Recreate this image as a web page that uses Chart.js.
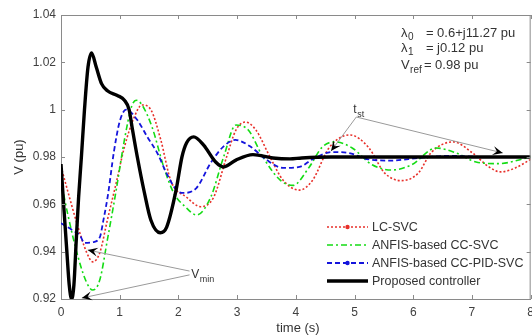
<!DOCTYPE html>
<html><head><meta charset="utf-8">
<script src="https://cdn.jsdelivr.net/npm/chart.js@4"></script>
<style>html,body{margin:0;padding:0;background:#fff;overflow:hidden;}</style>
</head><body>
<canvas id="c" width="540" height="335" style="display:block;width:540px;height:335px"></canvas>
<script>
// ---- data ----
const xTicks = [0, 1, 2, 3, 4, 5, 6, 7, 8];
const yTicks = [0.92, 0.94, 0.96, 0.98, 1, 1.02, 1.04];
const seriesLabels = ['LC-SVC', 'ANFIS-based CC-SVC', 'ANFIS-based CC-PID-SVC', 'Proposed controller'];

const tLC = [0,0.11,0.29,0.44,0.54,0.66,0.79,0.94,1.08,1.25,1.38,1.53,1.70,1.87,2.14,2.38,2.60,2.82,2.98,3.14,3.32,3.56,3.78,4.06,4.28,4.57,4.92,5.24,5.51,5.80,6.09,6.30,6.68,7.01,7.29,7.49,7.74,8.0];
const vLC = [0.976,0.966,0.9504,0.9395,0.9357,0.9395,0.9534,0.969,0.9842,0.997,1.002,1.000,0.9872,0.970,0.963,0.959,0.963,0.980,0.9914,0.9948,0.9914,0.980,0.9703,0.966,0.970,0.984,0.9893,0.984,0.9733,0.970,0.9733,0.9817,0.9864,0.9817,0.9758,0.9737,0.9754,0.979];

const tAN = [0,0.11,0.29,0.44,0.54,0.66,0.79,0.94,1.08,1.20,1.28,1.38,1.55,1.75,1.92,2.12,2.31,2.55,2.77,2.98,3.19,3.44,3.73,3.95,4.23,4.45,4.67,4.96,5.30,5.63,5.97,6.39,6.73,7.07,7.45,8.0];
const vAN = [0.970,0.9564,0.9378,0.9268,0.9238,0.928,0.945,0.966,0.9872,1.0011,1.004,1.002,0.9927,0.9758,0.9648,0.9589,0.9555,0.963,0.980,0.9935,0.9914,0.980,0.9703,0.968,0.9758,0.9842,0.9864,0.9838,0.9767,0.9745,0.9767,0.9838,0.9817,0.9779,0.9772,0.980];

const tPID = [0,0.07,0.20,0.32,0.40,0.54,0.66,0.72,0.80,0.90,1.00,1.11,1.30,1.47,1.64,1.80,1.97,2.09,2.31,2.55,2.77,2.97,3.22,3.49,3.78,4.06,4.28,4.62,4.90,5.24,5.63,6.09,6.60,7.20,8.0];
const vPID = [0.952,0.951,0.949,0.947,0.9437,0.944,0.946,0.953,0.964,0.982,0.995,1.0,0.9956,0.9885,0.9817,0.973,0.966,0.9648,0.967,0.9775,0.9845,0.9872,0.9845,0.979,0.9754,0.9758,0.979,0.9821,0.9817,0.979,0.9785,0.9796,0.9805,0.980,0.980];

const tPC = [0,0.05,0.10,0.14,0.18,0.22,0.26,0.30,0.35,0.40,0.46,0.52,0.60,0.69,0.79,0.96,1.08,1.16,1.21,1.30,1.42,1.53,1.69,1.80,1.96,2.06,2.14,2.26,2.43,2.63,2.77,2.98,3.27,3.61,3.90,4.10,4.60,5.0,6.0,7.0,8.0];
const vPC = [0.977,0.958,0.940,0.926,0.920,0.926,0.945,0.963,0.981,1.000,1.018,1.024,1.018,1.011,1.008,1.006,1.004,1.000,0.9927,0.980,0.965,0.9534,0.948,0.9504,0.966,0.980,0.986,0.9885,0.985,0.978,0.9758,0.9787,0.981,0.9796,0.9792,0.9796,0.980,0.980,0.980,0.980,0.980];

// annotation anchors in data units (t, V)
const vminLabel = [2.22, 0.9289];
const vminFrom = [[2.19, 0.9318], [2.19, 0.9302]];
const vminTips = [[0.455, 0.9407], [0.354, 0.9204]];
const tstLabel = [4.98, 0.9986];
const tstFrom = [5.03, 0.9969];
const tstTips = [[4.60, 0.9825], [7.525, 0.9817]];
const paramAnchor = [5.79, 1.0305];

// ---- build ----
const pts = (t, v) => t.map((x, i) => ({x: x, y: v[i]}));
const FONT = '"Liberation Sans", Arial, Helvetica, sans-serif';
const styles = [
  {color: '#e8302a', width: 1.6, dash: [2, 2], marker: true},
  {color: '#14dc14', width: 1.6, dash: [6, 3, 2, 3], marker: false},
  {color: '#1414dc', width: 1.8, dash: [5, 3], marker: true},
  {color: '#000000', width: 3.4, dash: [], marker: false}
];
const seriesData = [pts(tLC, vLC), pts(tAN, vAN), pts(tPID, vPID), pts(tPC, vPC)];

const datasets = seriesData.map((d, i) => ({
  label: seriesLabels[i], data: d,
  borderColor: styles[i].color, borderWidth: styles[i].width, borderDash: styles[i].dash,
  pointRadius: 0, fill: false, cubicInterpolationMode: 'monotone', order: 3 - i
}));

function arrowHead(ctx, x0, y0, x1, y1) {
  const a = Math.atan2(y1 - y0, x1 - x0);
  const L = 10, W = 4.5, N = 6;
  ctx.save(); ctx.translate(x1, y1); ctx.rotate(a);
  ctx.beginPath(); ctx.moveTo(0, 0); ctx.lineTo(-L, -W); ctx.lineTo(-N, 0); ctx.lineTo(-L, W); ctx.closePath();
  ctx.fillStyle = '#000'; ctx.fill(); ctx.restore();
}
function subText(ctx, main, sub, x, y, size, subSize, dy, color) {
  ctx.fillStyle = color; ctx.textAlign = 'left'; ctx.textBaseline = 'alphabetic';
  ctx.font = size + 'px ' + FONT; ctx.fillText(main, x, y);
  const w = ctx.measureText(main).width;
  ctx.font = subSize + 'px ' + FONT; ctx.fillText(sub, x + w + 0.5, y + dy);
  return w + 0.5 + ctx.measureText(sub).width;
}

const decor = {
  id: 'decor',
  afterDraw(chart) {
    const ctx = chart.ctx, xs = chart.scales.x, ys = chart.scales.y, a = chart.chartArea;
    const P = (p) => [xs.getPixelForValue(p[0]), ys.getPixelForValue(p[1])];
    ctx.save();
    // frame (top & right) and inward ticks
    ctx.strokeStyle = '#8a8a8a'; ctx.lineWidth = 1;
    ctx.beginPath();
    ctx.moveTo(a.left, a.top + 0.5); ctx.lineTo(a.right, a.top + 0.5);
    ctx.moveTo(a.right - 0.5, a.top); ctx.lineTo(a.right - 0.5, a.bottom);
    xTicks.forEach(v => { const x = Math.round(xs.getPixelForValue(v)) + 0.5;
      ctx.moveTo(x, a.bottom); ctx.lineTo(x, a.bottom - 4); ctx.moveTo(x, a.top); ctx.lineTo(x, a.top + 4); });
    yTicks.forEach(v => { const y = Math.round(ys.getPixelForValue(v)) + 0.5;
      ctx.moveTo(a.left, y); ctx.lineTo(a.left + 4, y); ctx.moveTo(a.right, y); ctx.lineTo(a.right - 4, y); });
    ctx.stroke();

    // axis titles
    ctx.fillStyle = '#333'; ctx.font = '13px ' + FONT; ctx.textAlign = 'center'; ctx.textBaseline = 'middle';
    ctx.fillText('time (s)', 298, 328);
    ctx.save(); ctx.translate(19, 157); ctx.rotate(-Math.PI / 2); ctx.fillText('V (pu)', 0, 0); ctx.restore();

    // V_min annotation
    ctx.strokeStyle = '#9a9a9a'; ctx.lineWidth = 1;
    vminTips.forEach((tp, i) => { const f = P(vminFrom[i]), t = P(tp);
      ctx.beginPath(); ctx.moveTo(f[0], f[1]); ctx.lineTo(t[0], t[1]); ctx.stroke(); arrowHead(ctx, f[0], f[1], t[0], t[1]); });
    let q = P(vminLabel); subText(ctx, 'V', 'min', q[0], q[1], 12, 9, 4, '#333');

    // t_st annotation
    const f2 = P(tstFrom);
    tstTips.forEach(tp => { const t = P(tp);
      ctx.strokeStyle = '#9a9a9a'; ctx.beginPath(); ctx.moveTo(f2[0], f2[1]); ctx.lineTo(t[0], t[1]); ctx.stroke(); arrowHead(ctx, f2[0], f2[1], t[0], t[1]); });
    q = P(tstLabel); subText(ctx, 't', 'st', q[0], q[1], 12, 9, 4, '#333');

    // parameter block
    q = P(paramAnchor);
    const eqX = q[0] + 25;
    subText(ctx, 'λ', '0', q[0], q[1], 13, 10, 3, '#333');
    ctx.font = '13px ' + FONT; ctx.fillText('= 0.6+j11.27 pu', eqX, q[1]);
    subText(ctx, 'λ', '1', q[0], q[1] + 15, 13, 10, 3, '#333');
    ctx.font = '13px ' + FONT; ctx.fillText('= j0.12 pu', eqX, q[1] + 15);
    subText(ctx, 'V', 'ref', q[0], q[1] + 32, 13, 10, 4, '#333');
    ctx.font = '13px ' + FONT; ctx.fillText('= 0.98 pu', eqX - 2, q[1] + 32);

    // legend
    const lx0 = a.left + 266, lx1 = a.left + 307, ly0 = 227, dyL = 18;
    seriesLabels.forEach((lab, i) => {
      const y = ly0 + i * dyL, s = styles[i];
      ctx.strokeStyle = s.color; ctx.lineWidth = s.width; ctx.setLineDash(s.dash);
      ctx.beginPath(); ctx.moveTo(lx0, y); ctx.lineTo(lx1, y); ctx.stroke(); ctx.setLineDash([]);
      if (s.marker) { ctx.fillStyle = s.color; ctx.beginPath(); ctx.arc((lx0 + lx1) / 2, y, 2.2, 0, 2 * Math.PI); ctx.fill(); }
      ctx.fillStyle = '#333'; ctx.font = '12.5px ' + FONT; ctx.textAlign = 'left'; ctx.textBaseline = 'middle';
      ctx.fillText(lab, lx1 + 4, y + 1);
    });
    ctx.restore();
  }
};

new Chart(document.getElementById('c'), {
  type: 'line',
  data: {datasets: datasets},
  options: {
    responsive: false, animation: false, devicePixelRatio: 1,
    layout: {padding: {left: 0, top: 15, right: 4, bottom: 0}},
    plugins: {legend: {display: false}, tooltip: {enabled: false}},
    scales: {
      x: {type: 'linear', min: 0, max: 8,
        afterBuildTicks: s => { s.ticks = xTicks.map(v => ({value: v})); },
        afterFit: s => { s.height = 36; },
        grid: {drawOnChartArea: false, drawTicks: false},
        border: {display: true, color: '#8a8a8a', width: 1},
        ticks: {padding: 6, color: '#404040', font: {family: FONT, size: 12}, maxRotation: 0, autoSkip: false,
          callback: v => String(v)}},
      y: {type: 'linear', min: 0.92, max: 1.04,
        afterBuildTicks: s => { s.ticks = yTicks.map(v => ({value: v})); },
        afterFit: s => { s.width = 61; },
        grid: {drawOnChartArea: false, drawTicks: false},
        border: {display: true, color: '#8a8a8a', width: 1},
        ticks: {padding: 5, color: '#404040', font: {family: FONT, size: 12}, autoSkip: false,
          callback: v => String(+Number(v).toFixed(2))}}
    }
  },
  plugins: [decor]
});
</script>
</body></html>
